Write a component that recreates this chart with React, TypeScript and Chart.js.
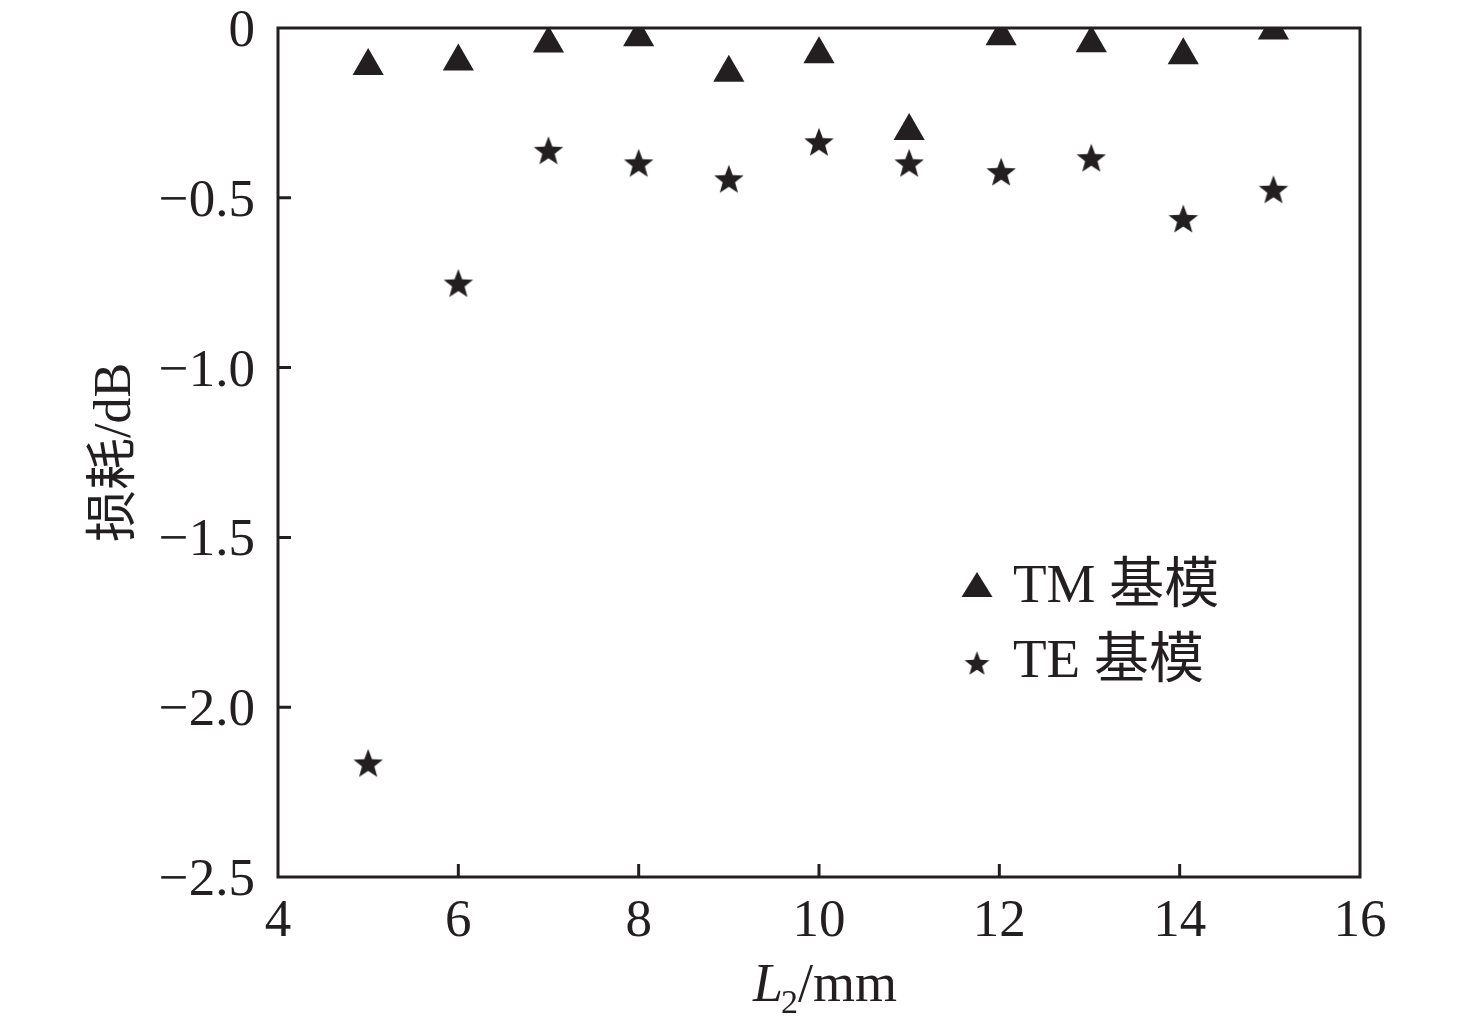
import React, { useEffect, useRef } from 'react';
import { Chart, registerables } from 'chart.js';

Chart.register(...registerables);

const INK = '#231f20';
const SERIF = '"Liberation Serif", "Times New Roman", "Noto Sans CJK SC", serif';

// L2 / mm
const lengths = [5, 6, 7, 8, 9, 10, 11, 12.02, 13.02, 14.04, 15.04];
// loss / dB
const lossTM = [-0.112, -0.099, -0.046, -0.027, -0.132, -0.077, -0.303, -0.024, -0.045, -0.08, -0.007];
const lossTE = [-2.164, -0.751, -0.36, -0.397, -0.444, -0.335, -0.397, -0.423, -0.382, -0.561, -0.475];

const seriesNames = ['TM 基模', 'TE 基模'];
const xTicks = [4, 6, 8, 10, 12, 14, 16];
const yTicks = [0, -0.5, -1.0, -1.5, -2.0, -2.5];
const yTitle = '损耗/dB';
const xTitle = { main: 'L', sub: '2', unit: '/mm' };

// filled five-point star, bbox centred in the canvas
function makeStar(R: number, ratio = 0.42) {
  const cos36 = Math.cos(Math.PI / 5);
  const w = Math.ceil(2 * R * Math.sin((2 * Math.PI) / 5)) + 2;
  const h = Math.ceil(R * (1 + cos36)) + 2;
  const c = document.createElement('canvas');
  c.width = w;
  c.height = h;
  const g = c.getContext('2d')!;
  const cx = w / 2;
  const cy = h / 2 + (R - R * cos36) / 2;
  g.beginPath();
  for (let i = 0; i < 10; i++) {
    const r = i % 2 === 0 ? R : R * ratio;
    const a = -Math.PI / 2 + (i * Math.PI) / 5;
    const px = cx + r * Math.cos(a);
    const py = cy + r * Math.sin(a);
    if (i === 0) g.moveTo(px, py);
    else g.lineTo(px, py);
  }
  g.closePath();
  g.fillStyle = INK;
  g.fill();
  return c;
}

const framePlugin = {
  id: 'frame',
  afterDraw(chart: any) {
    const { ctx, chartArea: a, scales } = chart;
    ctx.save();
    ctx.strokeStyle = INK;
    ctx.lineWidth = 3;
    ctx.strokeRect(a.left, a.top, a.right - a.left, a.bottom - a.top);

    // inward tick marks
    const tl = 13;
    ctx.beginPath();
    scales.x.ticks.forEach((t: any) => {
      const px = scales.x.getPixelForValue(t.value);
      if (px <= a.left + 2 || px >= a.right - 2) return;
      ctx.moveTo(px, a.bottom);
      ctx.lineTo(px, a.bottom - tl);
    });
    scales.y.ticks.forEach((t: any) => {
      const py = scales.y.getPixelForValue(t.value);
      if (py <= a.top + 2 || py >= a.bottom - 2) return;
      ctx.moveTo(a.left, py);
      ctx.lineTo(a.left + tl, py);
    });
    ctx.stroke();

    ctx.fillStyle = INK;

    // y title
    ctx.save();
    ctx.translate(116, (a.top + a.bottom) / 2);
    ctx.rotate(-Math.PI / 2);
    ctx.font = `52px ${SERIF}`;
    ctx.textAlign = 'center';
    ctx.textBaseline = 'middle';
    ctx.fillText(yTitle, 0, 0);
    ctx.restore();

    // x title with subscript
    const fMain = `italic 54px ${SERIF}`;
    const fSub = `34px ${SERIF}`;
    const fUnit = `54px ${SERIF}`;
    ctx.font = fMain;
    const wMain = ctx.measureText(xTitle.main).width;
    ctx.font = fSub;
    const wSub = ctx.measureText(xTitle.sub).width;
    ctx.font = fUnit;
    const wUnit = ctx.measureText(xTitle.unit).width;
    const total = wMain + wSub + wUnit;
    let x = (a.left + a.right) / 2 + 7 - total / 2;
    const base = a.bottom + 124;
    ctx.textAlign = 'left';
    ctx.textBaseline = 'alphabetic';
    ctx.font = fMain;
    ctx.fillText(xTitle.main, x, base);
    x += wMain - 2;
    ctx.font = fSub;
    ctx.fillText(xTitle.sub, x, base + 12);
    x += wSub;
    ctx.font = fUnit;
    ctx.fillText(xTitle.unit, x, base);

    // legend inside the plot
    const mx = a.left + 699;
    const ty = a.top + 558;
    ctx.beginPath();
    ctx.moveTo(mx, ty - 14);
    ctx.lineTo(mx + 15.5, ty + 11);
    ctx.lineTo(mx - 15.5, ty + 11);
    ctx.closePath();
    ctx.fill();
    const s = makeStar(13);
    ctx.drawImage(s, mx - s.width / 2, a.top + 635 - s.height / 2);

    ctx.font = `55px ${SERIF}`;
    ctx.fillText(seriesNames[0], a.left + 735, a.top + 574);
    ctx.fillText(seriesNames[1], a.left + 735, a.top + 649);
    ctx.restore();
  },
};

export default function App() {
  const canvasRef = useRef<HTMLCanvasElement>(null);
  const chartRef = useRef<Chart | null>(null);

  useEffect(() => {
    document.body.style.margin = '0';
    if (!canvasRef.current) return;
    const ctx = canvasRef.current.getContext('2d');
    if (!ctx) return;

    const star = makeStar(15.5);
    const tickFont = { family: SERIF, size: 53 };

    chartRef.current = new Chart(ctx, {
      type: 'scatter',
      data: {
        datasets: [
          {
            label: seriesNames[0],
            data: lengths.map((x, i) => ({ x, y: lossTM[i] })),
            pointStyle: 'triangle',
            pointRadius: 18,
            pointBackgroundColor: INK,
            pointBorderWidth: 0,
            showLine: false,
          },
          {
            label: seriesNames[1],
            data: lengths.map((x, i) => ({ x, y: lossTE[i] })),
            pointStyle: star as any,
            pointRadius: 15,
            pointBackgroundColor: INK,
            pointBorderWidth: 0,
            showLine: false,
          },
        ],
      },
      options: {
        responsive: true,
        maintainAspectRatio: false,
        animation: false,
        layout: { padding: { left: 0, top: 28, right: 116, bottom: 0 } },
        plugins: {
          legend: { display: false },
          tooltip: { enabled: false },
        },
        scales: {
          x: {
            type: 'linear',
            min: 4,
            max: 16,
            grid: { display: false, drawTicks: false },
            border: { display: false },
            afterBuildTicks: (s: any) => {
              s.ticks = xTicks.map((v) => ({ value: v }));
            },
            afterFit: (s: any) => {
              s.height = 153;
              s.paddingLeft = 0;
              s.paddingRight = 0;
            },
            ticks: {
              color: INK,
              font: tickFont,
              padding: 13,
              maxRotation: 0,
              callback: (v: any) => String(v),
            },
          },
          y: {
            type: 'linear',
            min: -2.5,
            max: 0,
            grid: { display: false, drawTicks: false },
            border: { display: false },
            afterBuildTicks: (s: any) => {
              s.ticks = yTicks.map((v) => ({ value: v }));
            },
            afterFit: (s: any) => {
              s.width = 278;
              s.paddingTop = 0;
              s.paddingBottom = 0;
            },
            ticks: {
              color: INK,
              font: tickFont,
              padding: 23,
              labelOffset: 4,
              callback: (v: any) => (v === 0 ? '0' : '\u2212' + Math.abs(v).toFixed(1)),
            },
          },
        },
      },
      plugins: [framePlugin],
    });

    return () => {
      if (chartRef.current) {
        chartRef.current.destroy();
      }
    };
  }, []);

  return (
    <div style={{ width: '1476px', height: '1030px', position: 'relative', background: '#fff' }}>
      <canvas ref={canvasRef} />
    </div>
  );
}
